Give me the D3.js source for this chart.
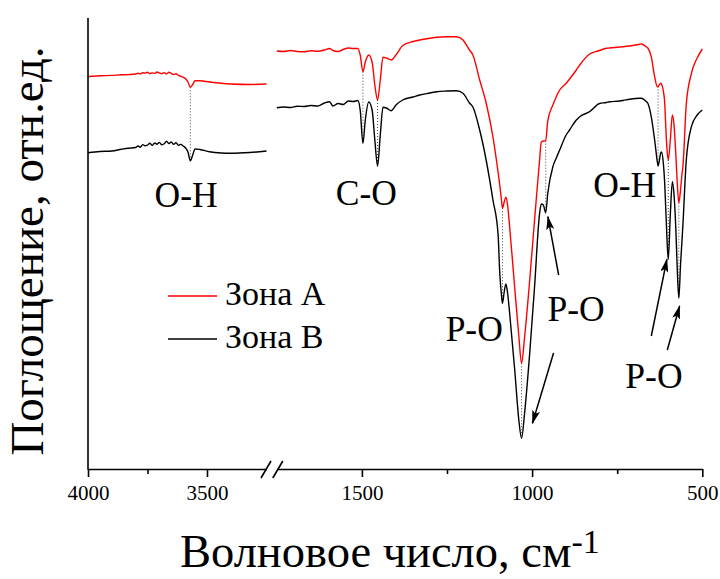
<!DOCTYPE html>
<html>
<head>
<meta charset="utf-8">
<script src="https://cdn.jsdelivr.net/npm/d3@7"></script>
<style>
  html, body { margin: 0; padding: 0; background: #fff; }
  svg { display: block; }
  svg text { font-family: 'Liberation Serif', 'Times New Roman', Times, 'DejaVu Serif', serif; }
</style>
</head>
<body>
<svg id="chart" width="720" height="579"></svg>
<script>
// IR spectra of two zones, wavenumber axis with a break between 3250 and 1750 cm-1.

// High-wavenumber segment (4000–3250 cm-1)
const wnLeft = [4000, 3950, 3900, 3860, 3830, 3800, 3790, 3780, 3770, 3760, 3750, 3740, 3730, 3720,
  3710, 3700, 3690, 3680, 3670, 3660, 3650, 3640, 3630, 3620, 3610, 3600, 3590, 3580, 3570, 3560,
  3550, 3530, 3490, 3440, 3400, 3320, 3250];
const zoneALeft = [0.3923, 0.3932, 0.3936, 0.3942, 0.3944, 0.3950, 0.3958, 0.3951, 0.3962, 0.3959,
  0.3968, 0.3954, 0.3961, 0.3956, 0.3970, 0.3960, 0.3954, 0.3964, 0.3950, 0.3968, 0.3957, 0.3944,
  0.3952, 0.3936, 0.3927, 0.3918, 0.3902, 0.3870, 0.3817, 0.3845, 0.3882, 0.3882, 0.3870, 0.3857,
  0.3850, 0.3845, 0.3850];
const zoneBLeft = [0.3163, 0.3175, 0.3180, 0.3197, 0.3208, 0.3215, 0.3230, 0.3218, 0.3244, 0.3232,
  0.3240, 0.3258, 0.3236, 0.3260, 0.3248, 0.3266, 0.3242, 0.3252, 0.3278, 0.3254, 0.3270, 0.3246,
  0.3264, 0.3238, 0.3246, 0.3230, 0.3210, 0.3170, 0.3083, 0.3140, 0.3200, 0.3195, 0.3173, 0.3160,
  0.3157, 0.3165, 0.3180];

// Fingerprint segment (1750–500 cm-1)
const wnRight = [1750, 1730, 1710, 1690, 1670, 1650, 1630, 1610, 1595, 1585, 1570, 1555, 1540, 1525,
  1512, 1505, 1497, 1490, 1480, 1470, 1462, 1454, 1446, 1438, 1428, 1414, 1400, 1380, 1350, 1330,
  1300, 1280, 1250, 1222, 1203, 1184, 1174, 1154, 1135, 1115, 1100, 1095, 1090, 1087, 1082, 1077,
  1072, 1066, 1051, 1039, 1031, 1022, 1007, 993, 978, 973, 967, 960, 954, 939, 929, 919, 900, 890,
  870, 860, 831, 802, 782, 772, 743, 733, 714, 684, 679, 665, 660, 650, 640, 632, 630, 622, 620,
  614, 611, 606, 604, 600, 594, 588, 583, 578, 574, 569, 564, 559, 557, 547, 532, 515, 500];
const zoneARight = [0.418, 0.4175, 0.4185, 0.4175, 0.4172, 0.4182, 0.4178, 0.419, 0.4205, 0.4185,
  0.4175, 0.4195, 0.421, 0.4205, 0.4205, 0.414, 0.3973, 0.407, 0.414, 0.407, 0.384, 0.369, 0.389,
  0.4117, 0.411, 0.409, 0.414, 0.4235, 0.4275, 0.429, 0.4307, 0.4317, 0.4322, 0.4323, 0.429, 0.419,
  0.414, 0.389, 0.366, 0.332, 0.297, 0.284, 0.269, 0.2607, 0.267, 0.2717, 0.264, 0.2423, 0.181,
  0.133, 0.1057, 0.132, 0.189, 0.248, 0.309, 0.327, 0.328, 0.3283, 0.348, 0.364, 0.3723, 0.379,
  0.3857, 0.39, 0.399, 0.404, 0.415, 0.4185, 0.4207, 0.421, 0.422, 0.4223, 0.423, 0.4247, 0.425,
  0.4223, 0.421, 0.4123, 0.3923, 0.3823, 0.3825, 0.3857, 0.385, 0.377, 0.369, 0.333, 0.321, 0.309,
  0.329, 0.354, 0.344, 0.316, 0.289, 0.2663, 0.279, 0.297, 0.3023, 0.365, 0.3957, 0.411, 0.42];
const zoneBRight = [0.3613, 0.362, 0.3615, 0.3628, 0.3625, 0.3635, 0.363, 0.366, 0.3673, 0.363,
  0.3655, 0.3645, 0.368, 0.3675, 0.3685, 0.359, 0.3257, 0.349, 0.367, 0.359, 0.329, 0.303, 0.334,
  0.3617, 0.361, 0.3583, 0.364, 0.369, 0.372, 0.374, 0.376, 0.3773, 0.378, 0.3783, 0.3757, 0.366,
  0.362, 0.339, 0.309, 0.269, 0.235, 0.196, 0.174, 0.1657, 0.177, 0.185, 0.176, 0.156, 0.099, 0.049,
  0.0307, 0.056, 0.116, 0.181, 0.2557, 0.265, 0.264, 0.2563, 0.2757, 0.3023, 0.311, 0.319, 0.334,
  0.339, 0.349, 0.3523, 0.3573, 0.3655, 0.3665, 0.3673, 0.368, 0.3685, 0.3697, 0.3707, 0.3707,
  0.3675, 0.3657, 0.3523, 0.329, 0.307, 0.303, 0.316, 0.317, 0.304, 0.289, 0.249, 0.2323, 0.2097,
  0.254, 0.2873, 0.274, 0.2423, 0.204, 0.1707, 0.204, 0.2323, 0.244, 0.309, 0.3423, 0.354, 0.359];

// Band positions joined by dotted guides (cm-1)
const peakWn = [3570, 1497, 1454, 1087, 1031, 960, 630, 600, 569];

// Axis ticks
const majorTicksLeft = [4000, 3500];
const minorTicksLeft = [3750];
const majorTicksRight = [1500, 1000, 500];
const minorTicksRight = [1250, 750];

// Band assignments: label, wavenumber, level
const bandText = ["O-H", "C-O", "P-O", "P-O", "O-H", "P-O"];
const bandWn = [3588, 1487, 1170, 871, 728, 642];
const bandLevel = [0.262, 0.264, 0.128, 0.148, 0.272, 0.081];

// Arrows: [tail wn, tail level, tip wn, tip level]
const arrows = [
  [937, 0.116, 999, 0.0457],
  [922, 0.194, 953.6, 0.2523],
  [649.8, 0.133, 604, 0.2097],
  [602.8, 0.119, 566.7, 0.163]
];

const seriesNames = ["Зона А", "Зона В"];
const seriesColors = ["#ff0000", "#000000"];

const svg = d3.select("#chart");

const axisY = 469;
const xLeft = d3.scaleLinear().domain([4000, 3250]).range([88, 266.5]);
const xRight = d3.scaleLinear().domain([1750, 500]).range([276.8, 702.3]);
const x = wn => (wn > 2500 ? xLeft(wn) : xRight(wn));
const y = d3.scaleLinear().domain([0, 0.45]).range([axisY, 19]);

const line = d3.line()
  .x(d => x(d[0]))
  .y(d => y(d[1]))
  .curve(d3.curveMonotoneX);

const segments = [
  { wn: wnLeft, a: zoneALeft, b: zoneBLeft },
  { wn: wnRight, a: zoneARight, b: zoneBRight }
];

// dotted band guides
const guides = svg.append("g");
peakWn.forEach(p => {
  const seg = p > 2500 ? segments[0] : segments[1];
  const i = seg.wn.indexOf(p);
  guides.append("line")
    .attr("x1", x(p)).attr("x2", x(p))
    .attr("y1", y(seg.a[i])).attr("y2", y(seg.b[i]))
    .attr("stroke", "#444").attr("stroke-width", 1)
    .attr("stroke-dasharray", "1,2");
});

// spectra
segments.forEach(seg => {
  [seg.b, seg.a].forEach((vals, k) => {
    svg.append("path")
      .datum(seg.wn.map((w, i) => [w, vals[i]]))
      .attr("fill", "none")
      .attr("stroke", k === 0 ? seriesColors[1] : seriesColors[0])
      .attr("stroke-width", 1.4)
      .attr("stroke-linejoin", "round")
      .attr("d", line);
  });
});

// axes
function drawAxis(scale, majors, minors) {
  const g = svg.append("g").attr("transform", `translate(0,${axisY})`);
  g.call(d3.axisBottom(scale).tickValues(majors).tickSize(8).tickSizeOuter(0)
    .tickFormat(d3.format("d")));
  g.attr("font-family", null);
  g.select(".domain").attr("stroke-width", 1.6);
  g.selectAll(".tick line").attr("stroke-width", 1.6);
  g.selectAll(".tick text")
    .attr("font-size", 21).attr("fill", "#000")
    .attr("dy", null).attr("y", 31);
  const m = svg.append("g").attr("transform", `translate(0,${axisY})`);
  m.call(d3.axisBottom(scale).tickValues(minors).tickSize(5).tickFormat(""));
  m.select(".domain").remove();
  m.selectAll(".tick line").attr("stroke-width", 1.6);
}
drawAxis(xLeft, majorTicksLeft, minorTicksLeft);
drawAxis(xRight, majorTicksRight, minorTicksRight);

// break marks
[xLeft.range()[1] - 0.5, xRight.range()[0] + 1].forEach(cx => {
  svg.append("line")
    .attr("x1", cx - 5).attr("y1", axisY + 9)
    .attr("x2", cx + 5).attr("y2", axisY - 8)
    .attr("stroke", "#000").attr("stroke-width", 1.6);
});

// y axis line
svg.append("line")
  .attr("x1", 88).attr("x2", 88)
  .attr("y1", y(0.45) - 1).attr("y2", axisY + 0.8)
  .attr("stroke", "#000").attr("stroke-width", 1.6);

// axis titles
svg.append("text")
  .attr("transform", `translate(43,251) rotate(-90)`)
  .attr("text-anchor", "middle")
  .attr("font-size", 47)
  .text("Поглощение, отн.ед.");

const xt = svg.append("text")
  .attr("x", 180).attr("y", 567)
  .attr("font-size", 46.5);
xt.append("tspan").text("Волновое число, см");
xt.append("tspan").attr("font-size", 34).attr("dy", -14).text("-1");

// band labels
bandText.forEach((t, i) => {
  svg.append("text")
    .attr("x", x(bandWn[i])).attr("y", y(bandLevel[i]))
    .attr("text-anchor", "middle")
    .attr("font-size", 35.5)
    .text(t);
});

// arrows
svg.append("defs").append("marker")
  .attr("id", "head")
  .attr("markerUnits", "userSpaceOnUse")
  .attr("markerWidth", 14).attr("markerHeight", 8)
  .attr("refX", 13).attr("refY", 4)
  .attr("orient", "auto")
  .append("path").attr("d", "M0,0 L14,4 L0,8 L3,4 Z").attr("fill", "#000");

arrows.forEach(a => {
  svg.append("line")
    .attr("x1", x(a[0])).attr("y1", y(a[1]))
    .attr("x2", x(a[2])).attr("y2", y(a[3]))
    .attr("stroke", "#000").attr("stroke-width", 1.5)
    .attr("marker-end", "url(#head)");
});

// legend
const legendY = [296, 339];
seriesNames.forEach((name, i) => {
  svg.append("line")
    .attr("x1", 168).attr("x2", 217)
    .attr("y1", legendY[i]).attr("y2", legendY[i])
    .attr("stroke", seriesColors[i]).attr("stroke-width", 1.4);
  svg.append("text")
    .attr("x", 225).attr("y", legendY[i] + 9)
    .attr("font-size", 34)
    .text(name);
});
</script>
</body>
</html>
